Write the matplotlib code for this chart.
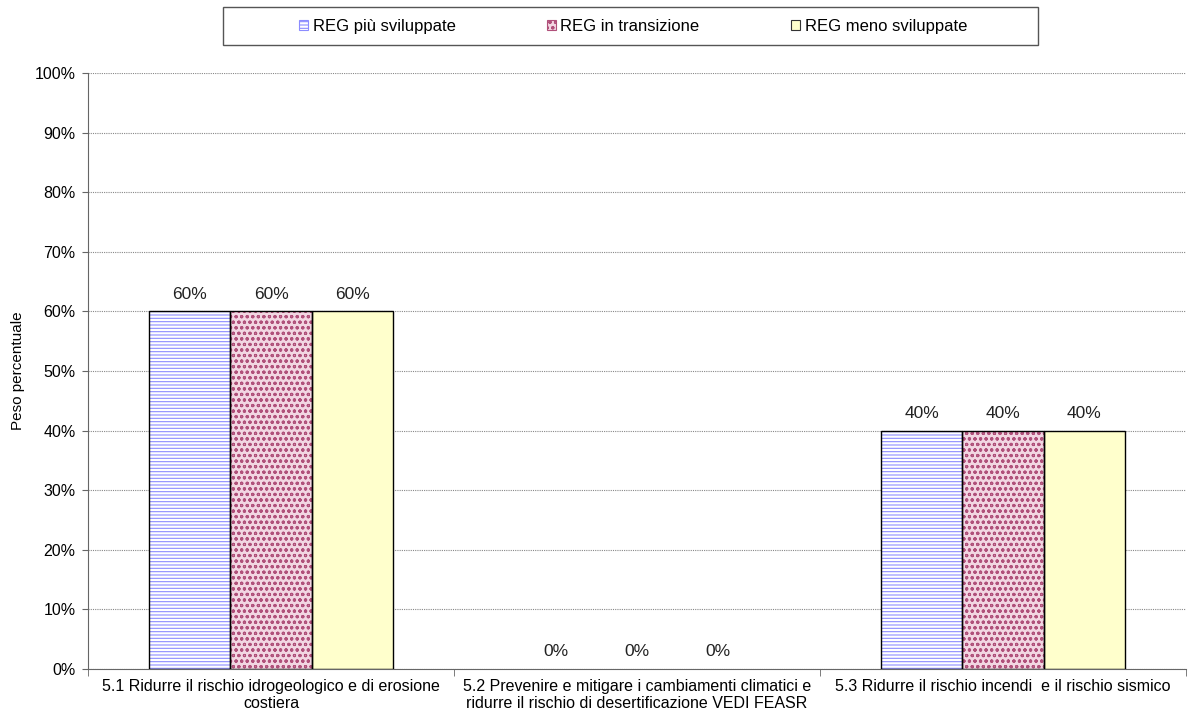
import numpy as np
import matplotlib
matplotlib.use('Agg')
import matplotlib.pyplot as plt
from matplotlib.patches import Patch, Rectangle

plt.rcParams['font.family'] = ['Liberation Sans', 'DejaVu Sans']
plt.rcParams['hatch.linewidth'] = 0.8

# dati
categorie = ['5.1 Ridurre il rischio idrogeologico e di erosione\ncostiera',
             '5.2 Prevenire e mitigare i cambiamenti climatici e\nridurre il rischio di desertificazione VEDI FEASR',
             '5.3 Ridurre il rischio incendi  e il rischio sismico']
serie = ['REG più sviluppate', 'REG in transizione', 'REG meno sviluppate']
piu_sviluppate = [60, 0, 40]
in_transizione = [60, 0, 40]
meno_sviluppate = [60, 0, 40]
valori = [piu_sviluppate, in_transizione, meno_sviluppate]

# stile: (colore fondo, tratteggio, colore tratteggio)
stili = [('white', '-----', '#8c8cff'),
         ('#f2d6e2', 'ooo', '#b0507a'),
         ('#ffffcc', '', '#ffffcc')]

fig = plt.figure(figsize=(11.9, 7.2), dpi=100)
ax = fig.add_axes([0.074, 0.0708, 0.9226, 0.8278])

x = np.arange(len(categorie))
w = 0.222
handles = []
for i, (v, (fc, h, hc)) in enumerate(zip(valori, stili)):
    pos = x + (i - 1) * w
    ax.bar(pos, v, w, color=fc, hatch=h, edgecolor=hc, linewidth=0, zorder=2)
    ax.bar(pos, v, w, fill=False, edgecolor='black',
           linewidth=[1 if val else 0 for val in v], zorder=3)
    for px, val in zip(pos, v):
        ax.annotate('%d%%' % val, (px, val), xytext=(0, 7), textcoords='offset points',
                    ha='center', va='bottom', fontsize=12.5, color='#222222')
    handles.append(Patch(facecolor=fc, hatch=h, edgecolor=hc if h else '#333333',
                         linewidth=0.8))

ax.set_xlim(-0.5, 2.5)
ax.set_ylim(0, 100)
ax.set_yticks(np.arange(0, 101, 10))
ax.set_yticklabels(['%d%%' % t for t in range(0, 101, 10)], fontsize=11.5)
ax.yaxis.grid(True, linestyle=(0, (1, 1)), color='#888888', linewidth=0.8, zorder=0)
ax.set_axisbelow(True)

ax.set_xticks(x)
ax.set_xticklabels(categorie, fontsize=11.5, linespacing=1.2)
ax.tick_params(axis='x', which='major', length=0, pad=7)
ax.set_xticks([-0.5, 0.5, 1.5, 2.5], minor=True)
ax.tick_params(axis='x', which='minor', length=5, color='#666666')
ax.tick_params(axis='y', length=4, color='#666666', pad=5)

ax.set_ylabel('Peso percentuale', fontsize=11)
ax.yaxis.set_label_coords(-0.057, 0.5)
ax.spines['top'].set_visible(False)
ax.spines['right'].set_visible(False)
ax.spines['left'].set_color('#666666')
ax.spines['bottom'].set_color('#666666')

# legenda con cornice separata
fig.patches.append(Rectangle((223 / 1190, 1 - 45 / 720), 815 / 1190, 38 / 720,
                             transform=fig.transFigure, fill=False,
                             edgecolor='#555555', linewidth=1))
fig.legend(handles, serie, loc='center', bbox_to_anchor=(0.532, 0.963), ncol=3,
           fontsize=12, frameon=False, handlelength=0.55, handleheight=0.55,
           handletextpad=0.25, columnspacing=5.5)

fig.savefig('out.png', dpi=100)
